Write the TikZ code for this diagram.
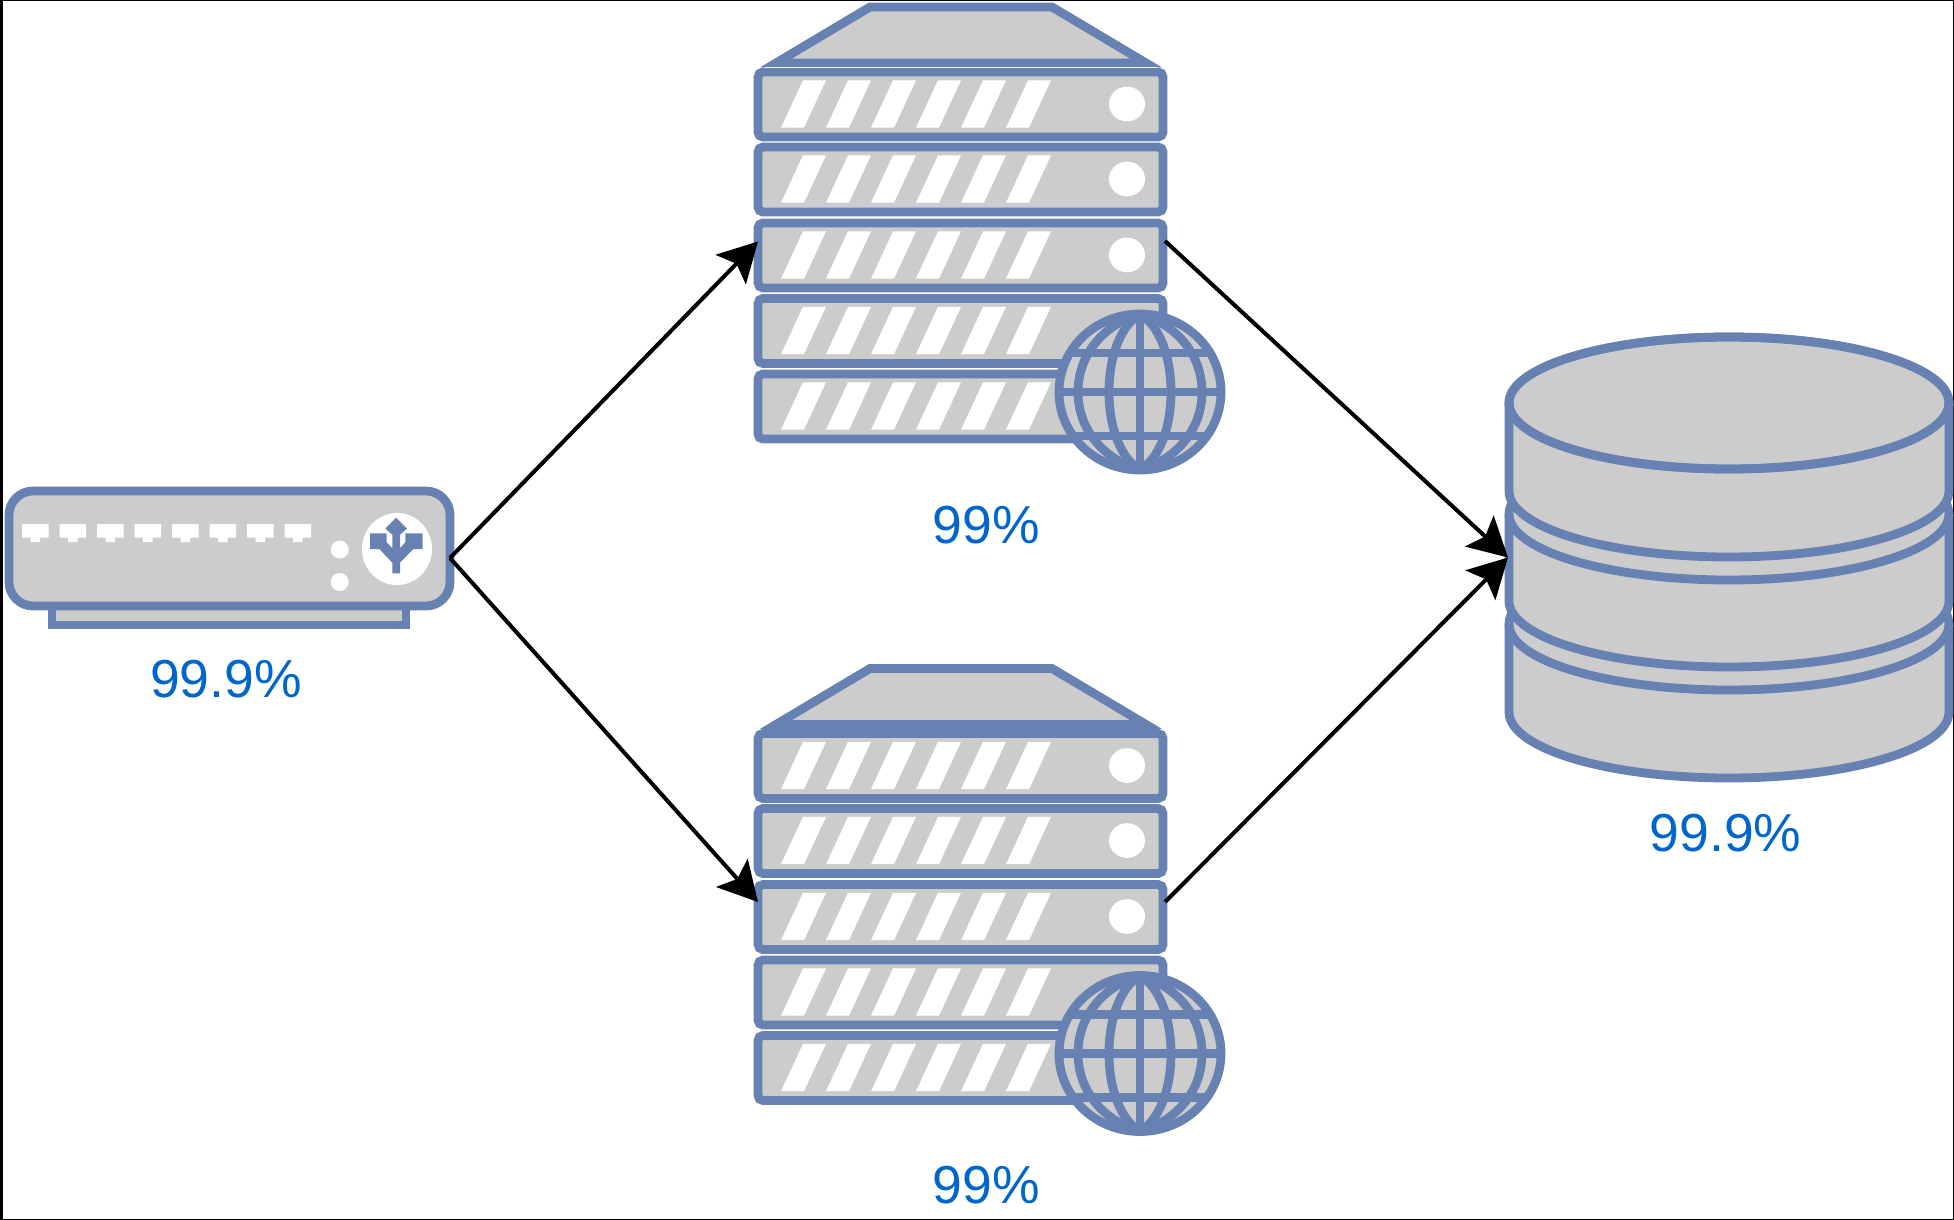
\documentclass[tikz,border=0pt]{standalone}
\usepackage{fontspec}
\setmainfont{Liberation Sans}
\usetikzlibrary{arrows.meta}
\definecolor{iconblue}{HTML}{6881B3}
\definecolor{icongray}{HTML}{CCCCCC}
\definecolor{labelblue}{HTML}{0066CC}
\tikzset{
  iconshape/.style={draw=iconblue, fill=icongray, line width=8.8pt},
  iconline/.style={draw=iconblue, line width=8.8pt},
  uptime/.style={text=labelblue, inner sep=0pt, font=\fontsize{53.5}{60}\selectfont},
  link/.style={draw=black, line width=4pt, -{Stealth[length=39pt,width=42pt,inset=8pt]}}
}
\newcommand{\serverstack}[1]{
  \begin{scope}[yshift=-#1pt]
    \draw[iconshape, miter limit=12] (776,63) -- (870,7) -- (1052,7) -- (1146,63) -- cycle;
    \foreach \utop in {72,147,223,298.5,374} {
      \draw[iconshape, rounded corners=5pt] (758,\utop) rectangle (1163,\utop+65);
      \foreach \k in {0,...,5}
        \fill[white] (781+45*\k,\utop+55.7) -- (804+45*\k,\utop+55.7)
          -- (826+45*\k,\utop+8.3) -- (803+45*\k,\utop+8.3) -- cycle;
      \fill[white] (1127,\utop+32) ellipse[x radius=18, y radius=17.3];
    }
    % globe
    \fill[icongray] (1140,392) ellipse[x radius=81, y radius=78];
    \begin{scope}
      \clip (1140,392) ellipse[x radius=81, y radius=78];
      \foreach \yy in {353,392,436}
        \draw[iconline] (1050,\yy) -- (1230,\yy);
      \draw[iconline] (1140,310) -- (1140,474);
      \foreach \rr in {-62,-31,31,62}
        \draw[iconline] (1140,314) .. controls (1140+.6*\rr,325) and (1140+\rr,355) .. (1140+\rr,392)
          .. controls (1140+\rr,429) and (1140+.6*\rr,459) .. (1140,470);
    \end{scope}
    \draw[iconline] (1140,392) ellipse[x radius=81, y radius=78];
  \end{scope}
}
\newcommand{\dbdisk}[2]{
  \draw[iconshape] (1509,#1) -- (1509,#2) arc[start angle=180, end angle=0, x radius=220, y radius=66]
    -- (1949,#1) arc[start angle=0, end angle=-180, x radius=220, y radius=66] -- cycle;
  \draw[iconline] (1509,#1) arc[start angle=180, end angle=0, x radius=220, y radius=66];
}
\begin{document}
\begin{tikzpicture}[x=1pt, y=-1pt]
  \useasboundingbox (0,0) rectangle (1954,1220);
  \fill[black] (0,0) rectangle (1954,1220);
  \fill[white] (2.7,1) rectangle (1952.8,1218.8);

  % router
  \draw[iconshape] (52,590) rectangle (406,625);
  \draw[iconshape, rounded corners=24pt] (9,491) rectangle (450,606);
  \foreach \k in {0,...,7} {
    \fill[white] (22+37.5*\k,524) -- (48.7+37.5*\k,524) -- (48.7+37.5*\k,537.7) -- (40+37.5*\k,537.7)
      -- (40+37.5*\k,542) -- (30.7+37.5*\k,542) -- (30.7+37.5*\k,537.7) -- (22+37.5*\k,537.7) -- cycle;
  }
  \fill[white] (339.7,549.5) circle (9);
  \fill[white] (339.7,582) circle (9);
  \fill[white] (397,549) ellipse[x radius=35, y radius=36];
  \fill[iconblue] (396,517.7) -- (407,528.7) -- (400,534.7) -- (400,548.3) -- (405.3,542.3)
    -- (405.3,533.3) -- (422.7,533.3) -- (422.7,549) -- (413.3,549) -- (400,562.7) -- (400,573.3)
    -- (392.3,573.3) -- (392.3,562.7) -- (379.3,549) -- (370,549) -- (370,533.3) -- (386.7,533.3)
    -- (386.7,542.3) -- (392.3,548.3) -- (392.3,534.7) -- (385.3,528.7) -- cycle;

  \serverstack{0}
  \serverstack{661.5}
  \draw[white, line width=.6pt] (765,67.3) -- (1157,67.3);
  \fill[iconblue] (775,720) rectangle (1147,731);

  % database
  \dbdisk{624}{712}
  \dbdisk{514}{601}
  \dbdisk{403}{491}
  \draw[iconline] (1729,403) ellipse[x radius=220, y radius=66];

  \coordinate (routerout) at (450,558);
  \coordinate (srvain) at (758,241.5);
  \coordinate (srvaout) at (1165,241);
  \coordinate (srvbin) at (758,902);
  \coordinate (srvbout) at (1165,902);
  \coordinate (dbin) at (1508,557.5);

  \draw[link] (routerout) -- (srvain);
  \draw[link] (routerout) -- (srvbin);
  \draw[link] (srvaout) -- (dbin);
  \draw[link] (srvbout) -- (dbin);

  \node[uptime] (routerlabel) at (226,679) {99.9\%};
  \node[uptime] (srvalabel) at (986.5,525) {99\%};
  \node[uptime] (srvblabel) at (986.5,1185) {99\%};
  \node[uptime] (dblabel) at (1725.5,833) {99.9\%};
\end{tikzpicture}
\end{document}
